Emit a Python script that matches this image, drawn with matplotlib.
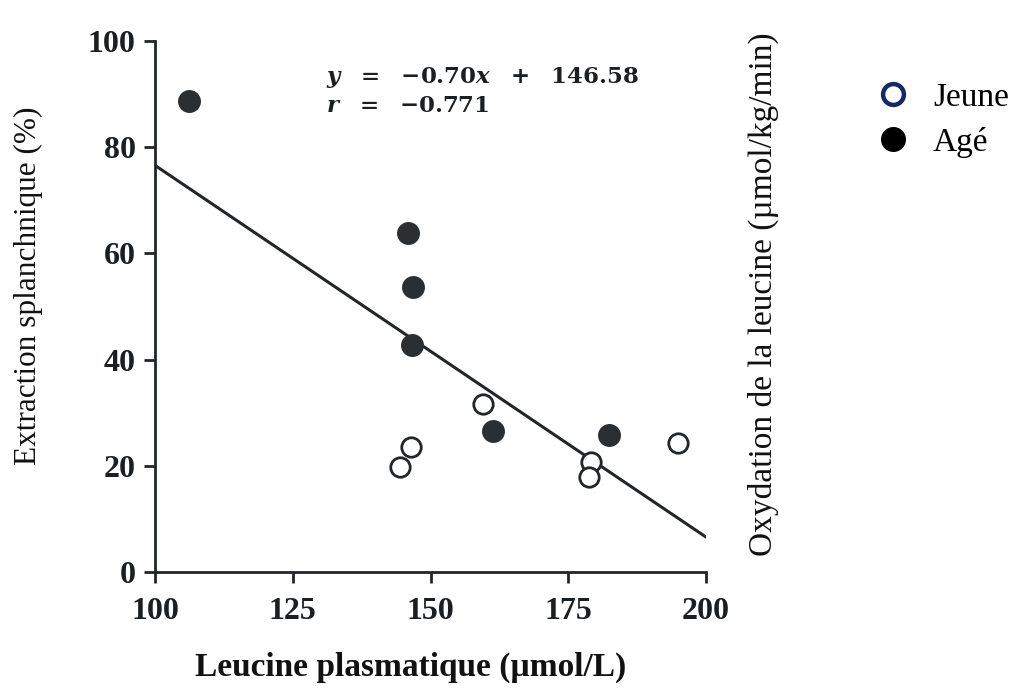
import matplotlib
matplotlib.use("Agg")
import matplotlib.pyplot as plt
from matplotlib.lines import Line2D
import numpy as np

# Plasma leucine (µmol/L) vs splanchnic extraction (%)
jeune_x = [159.6, 146.5, 144.5, 179.1, 178.8, 195.0]
jeune_y = [31.6, 23.6, 19.8, 20.8, 17.8, 24.2]
age_x = [106.2, 145.9, 146.8, 146.6, 161.4, 182.4]
age_y = [88.7, 63.8, 53.6, 42.7, 26.6, 25.8]

slope = -0.70
intercept = 146.58
r_value = -0.771

x_ticks = [100, 125, 150, 175, 200]
y_ticks = [0, 20, 40, 60, 80, 100]

ink = "#222628"
serif = ["Liberation Serif", "DejaVu Serif"]

plt.rcParams["mathtext.fontset"] = "custom"
plt.rcParams["mathtext.rm"] = "DejaVu Serif:bold"
plt.rcParams["mathtext.it"] = "DejaVu Serif:bold:italic"
plt.rcParams["mathtext.bf"] = "DejaVu Serif:bold"

fig = plt.figure(figsize=(10.15, 6.88), dpi=100)
ax = fig.add_axes([155 / 1015, 1 - 572 / 688, 551 / 1015, 531 / 688])

# regression line
lx = np.array([100, 200])
ax.plot(lx, slope * lx + intercept, color=ink, lw=2.2, zorder=2)

ax.plot(age_x, age_y, "o", ms=15.5, color="#2b2f31", mec="#2b2f31", zorder=3)
ax.plot(jeune_x, jeune_y, "o", ms=14, mfc="white", mec=ink, mew=2.0, zorder=3)

ax.set_xlim(100, 200)
ax.set_ylim(0, 100)
ax.set_xticks(x_ticks)
ax.set_yticks(y_ticks)
for s in ("top", "right"):
    ax.spines[s].set_visible(False)
for s in ("left", "bottom"):
    ax.spines[s].set_color(ink)
    ax.spines[s].set_linewidth(2.0)
ax.tick_params(direction="out", length=8, width=2.0, color=ink, pad=6)
ax.tick_params(axis="x", pad=10)
for lab in ax.get_xticklabels() + ax.get_yticklabels():
    lab.set_fontfamily(serif)
    lab.set_fontweight("bold")
    lab.set_fontsize(23)
    lab.set_color("#1c1f21")

eq_text = r"$y\ \ =\ \ {-}%.2fx\ \ +\ \ %.2f$" % (abs(slope), intercept)
ax.text(0.31, 0.931, eq_text, transform=ax.transAxes,
        fontsize=16.5, color="#1c1f21", ha="left", va="center")
r_text = r"$r\ \ =\ \ {-}%.3f$" % abs(r_value)
ax.text(0.31, 0.879, r_text,
        transform=ax.transAxes, fontsize=16.5, color="#1c1f21", ha="left", va="center")

fig.text(28 / 1015, 1 - 286 / 688, "Extraction splanchnique (%)", rotation=90,
         ha="center", va="center", fontsize=22.5, family=serif, color="#111")
fig.text(411 / 1015, 1 - 667 / 688, "Leucine plasmatique (µmol/L)",
         ha="center", va="center", fontsize=24, family=serif, fontweight="bold", color="#111")
fig.text(763 / 1015, 1 - 294 / 688, "Oxydation de la leucine (µmol/kg/min)", rotation=90,
         ha="center", va="center", fontsize=24, family=serif, color="#111")

handles = [
    Line2D([], [], ls="none", marker="o", ms=15, mfc="white", mec="#15286a", mew=3.2),
    Line2D([], [], ls="none", marker="o", ms=17, mfc="black", mec="black"),
]
fig.legend(handles, ["Jeune", "Agé"], loc="upper left",
           bbox_to_anchor=(863 / 1015, 1 - 69 / 688), frameon=False,
           prop={"family": serif, "size": 24}, handlelength=1.0,
           handletextpad=0.7, labelspacing=0.42, borderaxespad=0)

fig.savefig("out.png", dpi=100, facecolor="white")
